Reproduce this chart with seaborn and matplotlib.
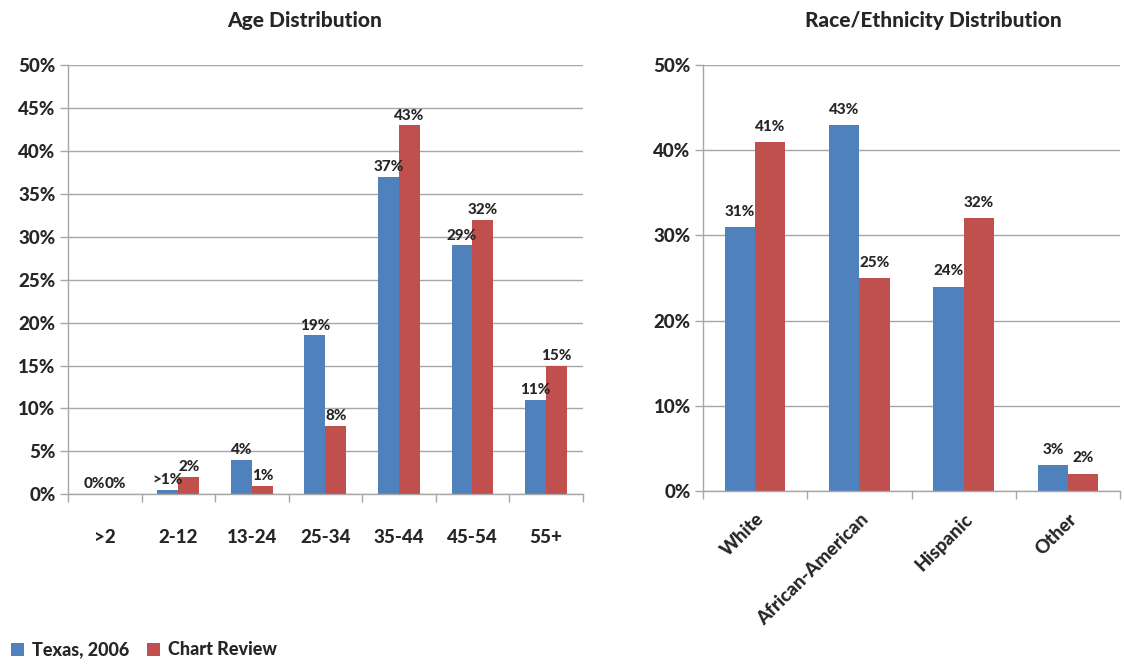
import matplotlib
matplotlib.use("Agg")
import matplotlib.pyplot as plt
from matplotlib.patches import Patch
import seaborn as sns
import pandas as pd

# Age groups
age_groups = [">2", "2-12", "13-24", "25-34", "35-44", "45-54", "55+"]
age_texas = [0, 0.5, 4, 18.5, 37, 29, 11]
age_review = [0, 2, 1, 8, 43, 32, 15]
age_texas_labels = ["0%", ">1%", "4%", "19%", "37%", "29%", "11%"]
age_review_labels = ["0%", "2%", "1%", "8%", "43%", "32%", "15%"]

# Race / ethnicity groups
race_groups = ["White", "African-American", "Hispanic", "Other"]
race_texas = [31, 43, 24, 3]
race_review = [41, 25, 32, 2]

series_names = ["Texas, 2006", "Chart Review"]
colors = ["#4F81BD", "#C0504D"]

age_ticks = [0, 5, 10, 15, 20, 25, 30, 35, 40, 45, 50]
race_ticks = [0, 10, 20, 30, 40, 50]

sns.set_theme(style="white")
plt.rcParams["font.family"] = ["Lato", "DejaVu Sans"]
W = "black"

def long_frame(groups, a, b):
    return pd.DataFrame({
        "group": groups * 2,
        "value": list(a) + list(b),
        "series": [series_names[0]] * len(groups) + [series_names[1]] * len(groups),
    })

fig = plt.figure(figsize=(11.24, 6.66), dpi=100)
ax1 = fig.add_axes([0.0605, 0.258, 0.458, 0.644])
ax2 = fig.add_axes([0.6255, 0.263, 0.371, 0.639])

grid_col = "#A6A6A6"

def style_axis(ax, n, ticks, ylim_top):
    ax.set_ylim(0, ylim_top)
    ax.set_xlim(-0.5, n - 0.5)
    ax.set_yticks(ticks)
    ax.set_yticklabels([f"{t}%" for t in ticks], fontsize=13.5, fontweight=W)
    ax.yaxis.grid(True, color=grid_col, linewidth=1)
    ax.set_axisbelow(True)
    for s in ["top", "right"]:
        ax.spines[s].set_visible(False)
    for s in ["left", "bottom"]:
        ax.spines[s].set_color(grid_col)
        ax.spines[s].set_linewidth(1)
    ax.set_xticks([i - 0.5 for i in range(n + 1)], minor=True)
    ax.tick_params(axis="x", which="minor", length=6, color=grid_col, width=1, direction="out", bottom=True)
    ax.tick_params(axis="x", which="major", length=0)
    ax.tick_params(axis="y", which="major", length=6, color=grid_col, width=1, direction="out", left=True, pad=3)
    ax.set_xlabel("")
    ax.set_ylabel("")

# Age distribution
df_age = long_frame(age_groups, age_texas, age_review)
sns.barplot(data=df_age, x="group", y="value", hue="series", palette=colors,
            width=0.57, saturation=1, errorbar=None, linewidth=0, ax=ax1, legend=False)
style_axis(ax1, len(age_groups), age_ticks, 50)
ax1.set_xticks(range(len(age_groups)))
ax1.set_xticklabels(age_groups, fontsize=13.5, fontweight=W)
ax1.tick_params(axis="x", which="major", pad=25)
ax1.bar_label(ax1.containers[0], labels=age_texas_labels, padding=2, fontsize=11, fontweight=W)
ax1.bar_label(ax1.containers[1], labels=age_review_labels, padding=2, fontsize=11, fontweight=W)

# Race / ethnicity distribution
df_race = long_frame(race_groups, race_texas, race_review)
sns.barplot(data=df_race, x="group", y="value", hue="series", palette=colors,
            width=0.58, saturation=1, errorbar=None, linewidth=0, ax=ax2, legend=False)
style_axis(ax2, len(race_groups), race_ticks, 50)
ax2.set_xticks(range(len(race_groups)))
ax2.set_xticklabels(race_groups, fontsize=13.5, fontweight=W, rotation=45,
                    ha="right", rotation_mode="anchor")
ax2.tick_params(axis="x", which="major", pad=14)
ax2.bar_label(ax2.containers[0], labels=[f"{v}%" for v in race_texas], padding=6, fontsize=11, fontweight=W)
ax2.bar_label(ax2.containers[1], labels=[f"{v}%" for v in race_review], padding=6, fontsize=11, fontweight=W)

fig.text(305 / 1124, 1 - 20 / 666, "Age Distribution", ha="center", va="center",
         fontsize=15, fontweight=W)
fig.text(933 / 1124, 1 - 20 / 666, "Race/Ethnicity Distribution", ha="center", va="center",
         fontsize=15, fontweight=W)

handles = [Patch(facecolor=c, edgecolor="none") for c in colors]
fig.legend(handles, series_names, loc="lower left", bbox_to_anchor=(0.0, -0.005),
           ncol=2, frameon=False, handlelength=0.75, handleheight=0.75,
           handletextpad=0.4, columnspacing=1.0, borderaxespad=0.2,
           prop={"size": 13, "weight": W})

fig.savefig("out.png", dpi=100)
